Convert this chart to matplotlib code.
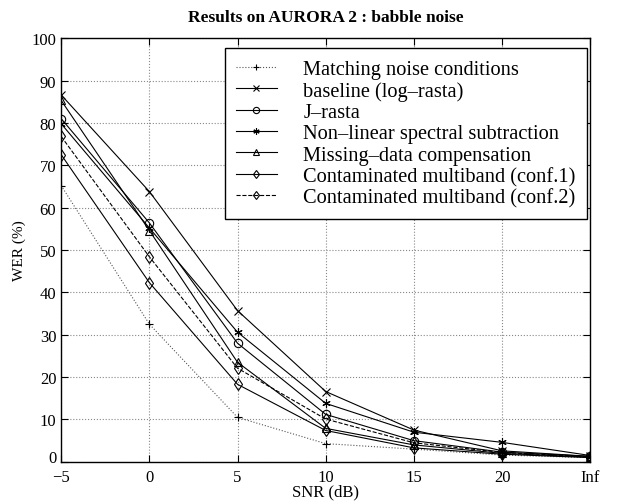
import matplotlib
matplotlib.use("Agg")
import matplotlib.pyplot as plt
import matplotlib.transforms as mtrans
import numpy as np

plt.rcParams['font.family'] = ['Liberation Serif', 'DejaVu Serif']
plt.rcParams['mathtext.fontset'] = 'stix'

snr_labels = ['\u22125', '0', '5', '10', '15', '20', 'Inf']
names = ['Matching noise conditions', 'baseline (log\u2013rasta)', 'J\u2013rasta',
         'Non\u2013linear spectral subtraction', 'Missing\u2013data compensation',
         'Contaminated multiband (conf.1)', 'Contaminated multiband (conf.2)']
matching = [65.2, 32.5, 10.5, 4.3, 3.0, 1.6, 1.0]
baseline = [86.6, 63.8, 35.7, 16.6, 7.5, 2.6, 1.3]
jrasta = [81.0, 56.4, 28.0, 11.2, 5.0, 2.3, 1.3]
nlss = [79.8, 55.2, 30.6, 13.8, 7.0, 4.6, 1.5]
missing = [85.3, 54.6, 23.5, 7.9, 4.0, 2.0, 1.1]
conf1 = [72.5, 42.3, 18.3, 7.4, 3.3, 1.8, 1.0]
conf2 = [76.8, 48.4, 22.1, 10.1, 4.5, 2.2, 1.2]

series = [matching, baseline, jrasta, nlss, missing, conf1, conf2]
markers = ['+', 'x', 'o', (6, 2, 0), '^', 'd', 'd']
styles = [':', '-', '-', '-', '-', '-', '--']

fig = plt.figure(figsize=(6.18, 5.02), dpi=100)
ax = fig.add_axes([0.099, 0.078, 0.856, 0.844])
x = np.arange(len(snr_labels))
for i, (vals, name) in enumerate(zip(series, names)):
    color = '#555555' if i == 0 else 'black'
    ax.plot(x, vals, linestyle=styles[i], marker=markers[i], color=color,
            markerfacecolor='none', markeredgecolor='black', markersize=6,
            markeredgewidth=0.8, linewidth=0.8, label=name)

ax.set_xlim(0, 6)
ax.set_ylim(0, 100)
ax.set_xticks(x)
ax.set_xticklabels(snr_labels)
ax.set_yticks(np.arange(0, 101, 10))
ax.tick_params(direction='in', top=True, right=True, labelsize=12, length=5, width=0.8)
ax.tick_params(axis='x', pad=5)
ax.grid(True, linestyle=':', color='#888888', linewidth=0.8)
for s in ax.spines.values():
    s.set_linewidth(1.0)
ax.set_xlabel('SNR (dB)', fontsize=12, labelpad=-1)
ax.set_ylabel('WER (%)', fontsize=11)
ax.set_title('Results on AURORA 2 : babble noise', fontsize=12.5, fontweight='bold', pad=12)

# raise the "0" y tick label slightly, as in the reference
ylab0 = ax.get_yticklabels()[0]
ylab0.set_transform(ylab0.get_transform() + mtrans.ScaledTranslation(0, 4 / 72, fig.dpi_scale_trans))

leg = ax.legend(loc='upper right', bbox_to_anchor=(0.994, 0.976), fontsize=14.7,
                frameon=True, fancybox=False, edgecolor='black', framealpha=1,
                handlelength=2.0, labelspacing=0.1, borderpad=0.55, handletextpad=1.3,
                markerscale=0.75, borderaxespad=0)
leg.get_frame().set_linewidth(1.0)

fig.savefig('out.png', dpi=100)
